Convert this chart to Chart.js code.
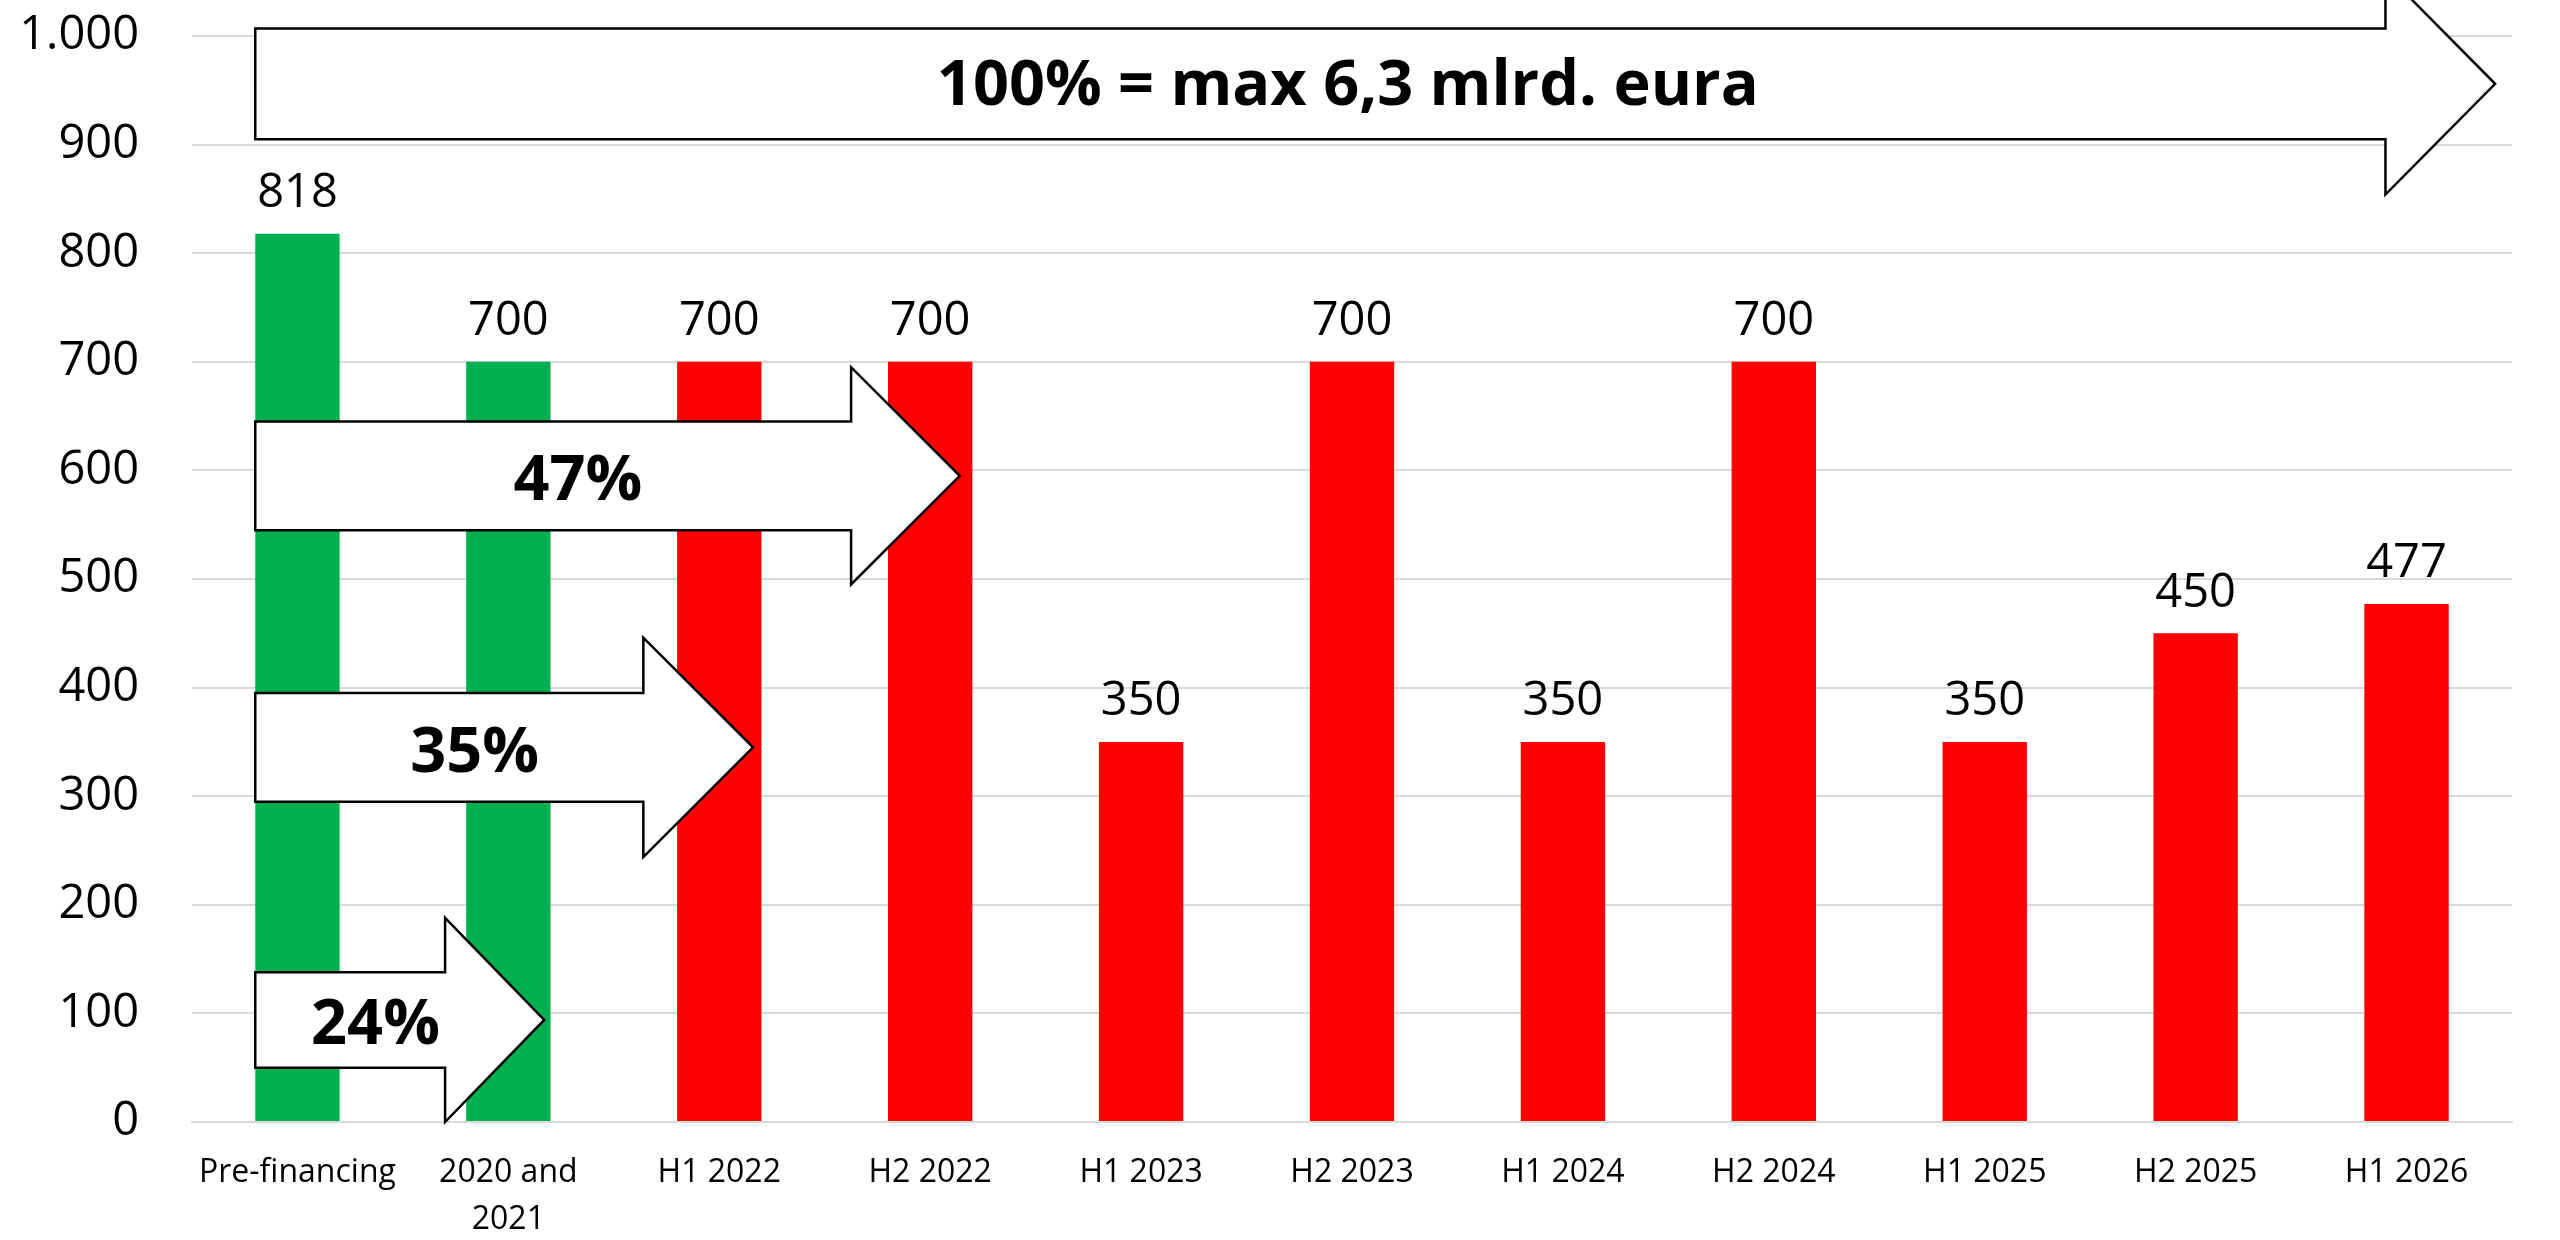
<!DOCTYPE html>
<html>
<head>
<meta charset="utf-8">
<script src="https://cdn.jsdelivr.net/npm/chart.js@4.4.1/dist/chart.umd.min.js"></script>
<style>
  html, body { margin: 0; padding: 0; background: #fff; }
  #wrap { width: 2560px; height: 1240px; }
</style>
</head>
<body>
<div id="wrap"><canvas id="fundChart" width="2560" height="1240"></canvas></div>
<script>
// chart data
const categories = ['Pre-financing', ['2020 and', '2021'], 'H1 2022', 'H2 2022', 'H1 2023', 'H2 2023',
                    'H1 2024', 'H2 2024', 'H1 2025', 'H2 2025', 'H1 2026'];
const amounts = [818, 700, 700, 700, 350, 700, 350, 700, 350, 450, 477];
const received = [true, true, false, false, false, false, false, false, false, false, false];
const yMin = 0;
const yMax = 1000;
const yStep = 100;
const arrowLabels = ['100% = max 6,3 mlrd. eura', '47%', '35%', '24%'];

// arrow shapes, x in category index units, y in axis units
const arrowShapes = [
    { left: -0.2, neck: 9.90, tip: 10.42, mid: 956, body: 51, head: 102, textX: 4.98, textY: 953 },
    { left: -0.2, neck: 2.625, tip: 3.14, mid: 595, body: 50, head: 100, textX: 1.33, textY: 589 },
    { left: -0.2, neck: 1.64, tip: 2.16, mid: 345, body: 50, head: 101, textX: 0.84, textY: 339 },
    { left: -0.2, neck: 0.70, tip: 1.17, mid: 94, body: 44, head: 94, textX: 0.37, textY: 88 }
];

const GREEN = '#00B050';
const RED = '#FF0000';
const FONT = '"Open Sans", "Noto Sans", sans-serif';

function dotThousands(v) {
    return String(v).replace(/\B(?=(\d{3})+(?!\d))/g, '.');
}

const overlayPlugin = {
    id: 'overlay',
    afterDatasetsDraw(chart) {
        const ctx = chart.ctx;
        const xs = chart.scales.x;
        const ys = chart.scales.y;

        ctx.save();
        // value labels above bars
        ctx.font = '47px ' + FONT;
        ctx.fillStyle = '#000';
        ctx.textAlign = 'center';
        ctx.textBaseline = 'middle';
        chart.getDatasetMeta(0).data.forEach((bar, i) => {
            ctx.fillText(String(amounts[i]), bar.x, bar.y - 40);
        });

        // block arrows
        arrowShapes.forEach((a, i) => {
            const x0 = xs.getPixelForValue(a.left);
            const x1 = xs.getPixelForValue(a.neck);
            const x2 = xs.getPixelForValue(a.tip);
            const yMid = ys.getPixelForValue(a.mid);
            const bTop = ys.getPixelForValue(a.mid + a.body);
            const bBot = ys.getPixelForValue(a.mid - a.body);
            const hTop = ys.getPixelForValue(a.mid + a.head);
            const hBot = ys.getPixelForValue(a.mid - a.head);

            ctx.beginPath();
            ctx.moveTo(x0, bTop);
            ctx.lineTo(x1, bTop);
            ctx.lineTo(x1, hTop);
            ctx.lineTo(x2, yMid);
            ctx.lineTo(x1, hBot);
            ctx.lineTo(x1, bBot);
            ctx.lineTo(x0, bBot);
            ctx.closePath();
            ctx.fillStyle = '#fff';
            ctx.fill();
            ctx.lineWidth = 2.5;
            ctx.strokeStyle = '#000';
            ctx.lineJoin = 'miter';
            ctx.stroke();

            ctx.font = 'bold 63px ' + FONT;
            ctx.fillStyle = '#000';
            ctx.fillText(arrowLabels[i], xs.getPixelForValue(a.textX), ys.getPixelForValue(a.textY));
        });
        ctx.restore();
    }
};

const ctx = document.getElementById('fundChart').getContext('2d');

new Chart(ctx, {
    type: 'bar',
    data: {
        labels: categories,
        datasets: [{
            data: amounts,
            backgroundColor: received.map(r => r ? GREEN : RED),
            borderWidth: 0,
            barPercentage: 0.4,
            categoryPercentage: 1.0
        }]
    },
    options: {
        responsive: false,
        animation: false,
        devicePixelRatio: 1,
        layout: { padding: { top: 36, right: 48, bottom: 0, left: 0 } },
        plugins: {
            legend: { display: false },
            tooltip: { enabled: false }
        },
        scales: {
            x: {
                grid: { display: false, drawTicks: false },
                border: { display: true, color: '#D9D9D9', width: 2 },
                ticks: {
                    color: '#000',
                    font: { family: FONT, size: 32, lineHeight: 1.45 },
                    padding: 28,
                    maxRotation: 0,
                    autoSkip: false
                },
                afterFit: s => { s.height = 118; s.paddingLeft = 0; s.paddingRight = 0; }
            },
            y: {
                min: yMin,
                max: yMax,
                grid: { color: '#D9D9D9', lineWidth: 2, drawTicks: false },
                border: { display: false },
                ticks: {
                    stepSize: yStep,
                    color: '#000',
                    font: { family: FONT, size: 47 },
                    padding: 53,
                    callback: v => dotThousands(v)
                },
                // keep the tick padding from pushing the plot area down
                afterFit: s => { s.width = 192; s.paddingTop = 0; s.paddingBottom = 0; }
            }
        }
    },
    plugins: [overlayPlugin]
});
</script>
</body>
</html>
